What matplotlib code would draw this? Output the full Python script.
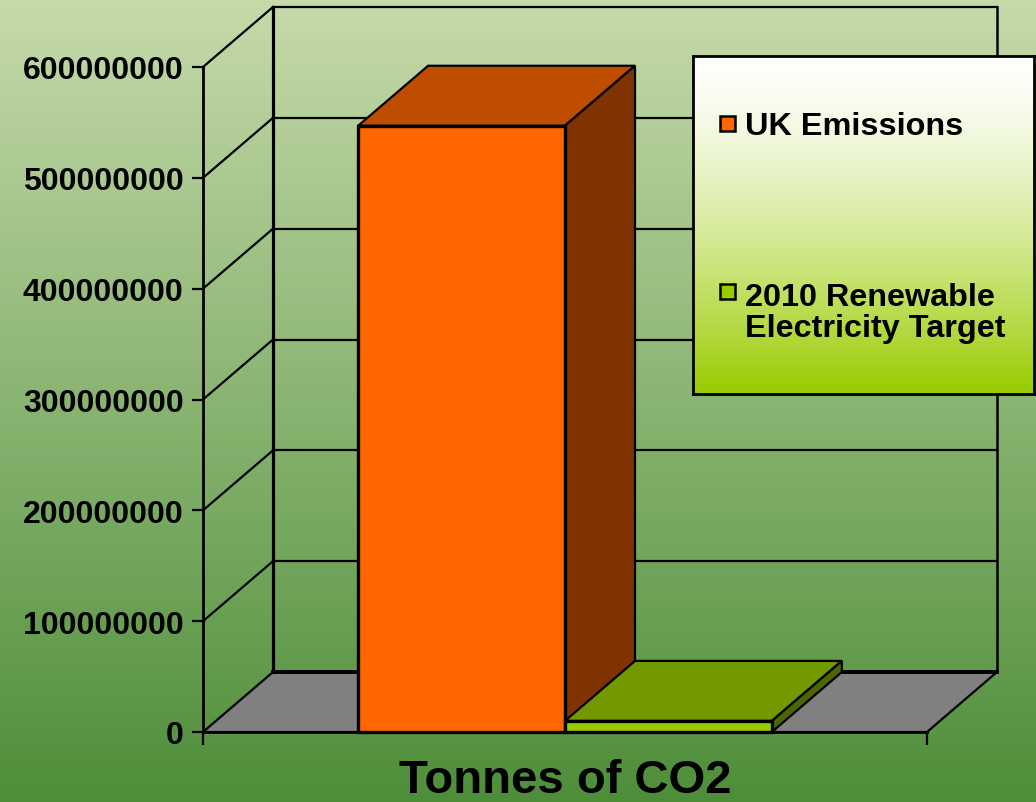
import matplotlib
matplotlib.use('Agg')
import matplotlib.pyplot as plt
import numpy as np
from matplotlib.patches import Polygon, Rectangle
from matplotlib.transforms import IdentityTransform
from matplotlib.colors import to_rgb

# chart data
categories = ['Tonnes of CO2']
series_names = ['UK Emissions', '2010 Renewable\nElectricity Target']
series_values = [547000000, 10000000]
series_colors = ['#FF6600', '#99CC00']
y_ticks = [0, 100000000, 200000000, 300000000, 400000000, 500000000, 600000000]

W, H, DPI = 1036, 803, 100
DEPTH = np.array([70.0, 60.0])  # pixel shift of the back plane (right, up)
FONT = ['Liberation Sans', 'DejaVu Sans']

plt.rcParams['font.family'] = FONT
plt.rcParams['font.weight'] = 'bold'

fig = plt.figure(figsize=(W / DPI, H / DPI), dpi=DPI)

# background gradient, light green at the top to darker green at the bottom
bg = fig.add_axes([0, 0, 1, 1], zorder=-10)
top_c = np.array([198, 218, 170]) / 255
bot_c = np.array([78, 142, 58]) / 255
t = np.linspace(0, 1, 256)[:, None, None]
grad = top_c * (1 - t) + bot_c * t
bg.imshow(grad, aspect='auto', extent=[0, 1, 0, 1])
bg.axis('off')

# front plane of the chart
ax = fig.add_axes([203 / W, (H - 733) / H, 724 / W, 665 / H])
ax.set_xlim(-0.5, 0.5)
ax.set_ylim(0, y_ticks[-1])
ax.patch.set_visible(False)
for s in ['top', 'right', 'bottom']:
    ax.spines[s].set_visible(False)
ax.spines['left'].set_linewidth(2.0)
ax.set_yticks(y_ticks)
ax.set_yticklabels([str(v) for v in y_ticks], fontsize=23, fontweight='bold')
ax.tick_params(axis='y', direction='out', length=8, width=1.6, pad=6)
ax.set_xticks([-0.5, 0.5])
ax.set_xticklabels(['', ''])
ax.tick_params(axis='x', which='major', direction='out', length=9, width=1.6)
ax.set_xticks([0], minor=True)
ax.set_xticklabels(categories, minor=True, fontsize=34, fontweight='bold')
ax.tick_params(axis='x', which='minor', length=0, pad=19)


def proj(x, v, d):
    # data point on the front plane, pushed back by d (0..1) of the depth
    p = ax.transData.transform((x, v))
    return p + d * DEPTH


def poly(pts, fc, z, lw=1.6):
    ax.add_patch(Polygon(pts, closed=True, facecolor=fc, edgecolor='black',
                         linewidth=lw, transform=IdentityTransform(),
                         clip_on=False, zorder=z))


def line(p0, p1, lw=1.6, z=1):
    ax.plot([p0[0], p1[0]], [p0[1], p1[1]], color='black', linewidth=lw,
            transform=IdentityTransform(), clip_on=False, zorder=z,
            solid_capstyle='projecting')


x0, x1 = ax.get_xlim()
ytop = y_ticks[-1]

# floor
poly([proj(x0, 0, 0), proj(x1, 0, 0), proj(x1, 0, 1), proj(x0, 0, 1)], '#808080', 0.5)
line(proj(x0, 0, 1), proj(x1, 0, 1), lw=2.8, z=0.6)

# back wall and side wall gridlines
for v in y_ticks[1:]:
    line(proj(x0, v, 1), proj(x1, v, 1), lw=1.6)
    line(proj(x0, v, 0), proj(x0, v, 1), lw=1.6)
line(proj(x0, 0, 1), proj(x0, ytop, 1), lw=2.3)
line(proj(x1, 0, 1), proj(x1, ytop, 1), lw=1.8)

# 3d bars: front face from ax.bar, top and side faces offset into depth
w = 1 / 3.5
lefts = [x0 + 0.75 * w + i * w for i in range(len(series_values))]
for left, val, col in zip(lefts, series_values, series_colors):
    rgb = np.array(to_rgb(col))
    ax.bar(left, val, width=w, align='edge', color=col, edgecolor='black',
           linewidth=2.4, clip_on=False, zorder=3)
    right = left + w
    poly([proj(left, val, 0), proj(right, val, 0), proj(right, val, 1), proj(left, val, 1)],
         rgb * 0.75, 2.5)
    poly([proj(right, 0, 0), proj(right, 0, 1), proj(right, val, 1), proj(right, val, 0)],
         rgb * 0.5, 2.5)

# front floor edge
line(proj(x0, 0, 0), proj(x1, 0, 0), lw=2.0, z=3.5)

# legend box with white to green gradient
lx0, ly0, lx1, ly1 = 693, 57, 1034, 395
lg = fig.add_axes([lx0 / W, (H - ly1) / H, (lx1 - lx0) / W, (ly1 - ly0) / H], zorder=5)
t2 = np.linspace(0, 1, 256)[:, None, None] ** 1.4
lgrad = np.array([1, 1, 1]) * (1 - t2) + np.array([153, 204, 0]) / 255 * t2
lg.imshow(lgrad, aspect='auto', extent=[lx0, lx1, ly1, ly0])
lg.set_xlim(lx0, lx1)
lg.set_ylim(ly1, ly0)
lg.set_xticks([])
lg.set_yticks([])
for s in lg.spines.values():
    s.set_linewidth(2.0)

# marker centre and baseline of the last text line for each entry
marker_y = [124, 292]
text_y = [135, 337]
for name, col, my, ty in zip(series_names, series_colors, marker_y, text_y):
    lg.add_patch(Rectangle((720, my - 7.5), 15, 15, facecolor=col, edgecolor='black',
                           linewidth=1.8))
    lg.text(745, ty, name, fontsize=23.3, fontweight='bold', va='baseline', ha='left',
            linespacing=1.05)

fig.savefig('out.png', dpi=DPI)
